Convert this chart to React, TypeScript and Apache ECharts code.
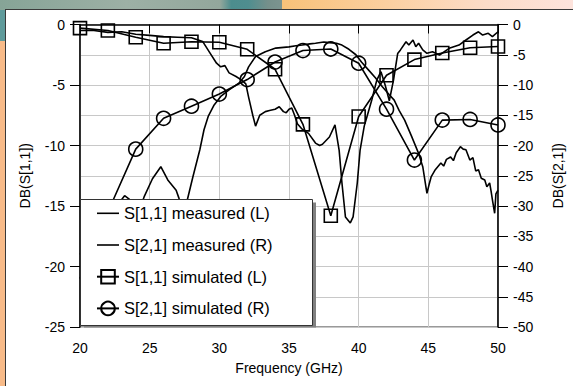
import React, { useEffect, useRef } from 'react';
import * as echarts from 'echarts';

const FONT = 'Liberation Sans, Arial, sans-serif';

const xTicks = [20, 25, 30, 35, 40, 45, 50];
const leftTicks = [-25, -20, -15, -10, -5, 0];
const rightTicks = [-50, -45, -40, -35, -30, -25, -20, -15, -10, -5, 0];

const seriesNames = [
  'S[1,1] measured (L)',
  'S[2,1] measured (R)',
  'S[1,1] simulated (L)',
  'S[2,1] simulated (R)',
];

// S[1,1] measured, dB (left axis)
const s11Measured: [number, number][] = [
  [20, -0.5], [21, -0.5], [22, -0.65], [23, -0.6], [24, -0.8], [25, -0.9], [26, -1.0],
  [27, -1.05], [28, -1.1], [28.8, -1.4], [29.3, -2.3], [29.8, -3.2], [30.1, -3.5],
  [30.4, -3.4], [30.7, -4.0], [31.2, -4.3], [31.6, -4.6], [31.9, -4.9], [32.1, -6.0],
  [32.4, -7.5], [32.6, -8.4], [32.9, -7.5], [33.3, -7.2], [33.6, -7.1], [34.0, -7.0],
  [34.3, -6.8], [34.6, -7.2], [34.8, -7.3], [35.0, -7.0], [35.2, -6.9], [35.4, -7.5],
  [35.6, -8.2], [35.9, -8.6], [36.4, -9.0], [36.9, -9.8], [37.2, -10.0], [37.4, -9.9],
  [37.9, -9.3], [38.3, -8.3], [38.6, -10.4], [38.8, -13.1], [39.05, -15.9], [39.4, -16.4],
  [39.6, -15.9], [39.9, -13.1], [40.1, -10.4], [40.4, -8.4], [40.6, -7.6], [40.95, -6.2],
  [41.3, -4.6], [41.6, -3.9], [41.9, -5.0], [42.2, -6.3], [42.5, -4.6], [42.8, -2.4],
  [43.0, -2.1], [43.4, -1.42], [43.6, -1.7], [43.9, -1.28], [44.1, -1.83], [44.3, -1.55],
  [44.6, -2.1], [44.9, -2.38], [45.3, -2.25], [45.8, -2.52], [46.5, -1.97], [47.2, -1.7],
  [47.7, -1.28], [48.2, -0.87], [48.6, -0.6], [48.9, -0.87], [49.3, -0.73], [49.6, -1.0],
  [50, -0.6],
];

// S[2,1] measured, dB (right axis)
const s21Measured: [number, number][] = [
  [20, -38], [21, -35], [22, -32], [22.8, -29.5], [23.2, -28.3], [23.6, -29], [24.2, -31],
  [24.6, -28.5], [25.2, -25.5], [25.8, -23.5], [26.3, -25.7], [26.9, -27.4], [27.1, -28.7],
  [27.4, -31], [27.7, -29], [28.1, -25.2], [28.6, -20.7], [28.9, -17.4], [29.2, -15.2],
  [29.6, -13.4], [30.1, -11.9], [30.7, -10.8], [31.4, -9.7], [31.8, -8.6], [32.1, -7.0],
  [32.6, -5.3], [33.3, -4.5], [34.05, -3.9], [35, -3.7], [35.5, -3.5], [35.95, -3.4],
  [36.5, -3.2], [36.9, -3.1], [37.5, -2.9], [37.9, -3.0], [38.4, -3.1], [38.8, -3.4],
  [39.3, -4.1], [39.8, -5.0], [40.2, -6.2], [40.7, -7.5], [41.2, -8.8], [41.7, -10.3],
  [42.2, -11.6], [42.55, -12.5], [42.9, -14.2], [43.3, -15.8], [43.8, -18.5], [44.3, -21.3],
  [44.6, -23.5], [44.9, -27.9], [45.05, -26.5], [45.2, -25.2], [45.5, -24], [45.9, -22.9],
  [46.1, -23.4], [46.3, -22.3], [46.6, -21.9], [46.8, -22.5], [47.0, -21.2], [47.3, -20.2],
  [47.5, -20.6], [47.7, -20.7], [47.98, -22.4], [48.2, -22.0], [48.4, -24.2], [48.6, -24.0],
  [48.8, -25.4], [49.05, -25.7], [49.2, -26.8], [49.4, -26.2], [49.5, -27.5], [49.6, -29],
  [49.76, -31.2], [49.85, -28], [50, -27.4],
];

// simulated (markers every 2 GHz)
const simFreq = [20, 22, 24, 26, 28, 30, 32, 34, 36, 38, 40, 42, 44, 46, 48, 50];
const s11Sim = [-0.3, -0.5, -1.05, -1.55, -1.42, -1.47, -2.05, -3.7, -8.25, -15.8, -7.6, -4.2, -2.9, -2.35, -1.92, -1.82];
const s21Sim = [-42, -31, -20.6, -15.5, -13.5, -11.5, -9.1, -6.2, -4.3, -4.05, -6.4, -14.0, -22.4, -15.8, -15.7, -16.6];

export default function App() {
  const ref = useRef<HTMLDivElement>(null);

  useEffect(() => {
    if (!ref.current) return;
    const chart = echarts.init(ref.current, null, { renderer: 'svg' });
    const axisText = { fontSize: 14, color: '#000', fontFamily: FONT };
    const lineW = 1.6;
    chart.setOption({
      animation: false,
      textStyle: { fontFamily: FONT },
      grid: {
        left: 80, right: 73, top: 24.5, bottom: 59,
        show: true, borderColor: '#333', borderWidth: 1, backgroundColor: 'transparent',
      },
      xAxis: {
        type: 'value', min: xTicks[0], max: xTicks[xTicks.length - 1], interval: 5,
        name: 'Frequency (GHz)', nameLocation: 'middle', nameGap: 34,
        nameTextStyle: { ...axisText },
        axisLine: { lineStyle: { color: '#000', width: 1.5 } },
        axisTick: { length: 9, lineStyle: { color: '#000', width: 1 } },
        axisLabel: { ...axisText, margin: 14 },
        splitLine: { show: true, lineStyle: { color: '#c8c8c8', width: 1 } },
      },
      yAxis: [
        {
          type: 'value', position: 'left', min: leftTicks[0], max: leftTicks[leftTicks.length - 1], interval: 5,
          name: 'DB(S[1,1])', nameLocation: 'middle', nameRotate: 90, nameGap: 48,
          nameTextStyle: { ...axisText },
          axisLine: { show: true, lineStyle: { color: '#000', width: 1.5 } },
          axisTick: { show: true, length: 10, lineStyle: { color: '#000', width: 1 } },
          axisLabel: { ...axisText, margin: 15 },
          splitLine: { show: false },
        },
        {
          type: 'value', position: 'right', min: rightTicks[0], max: rightTicks[rightTicks.length - 1], interval: 5,
          name: 'DB(S[2,1])', nameLocation: 'middle', nameRotate: 90, nameGap: 53,
          nameTextStyle: { ...axisText },
          axisLine: { show: true, lineStyle: { color: '#000', width: 1.5 } },
          axisTick: { show: true, length: 10, lineStyle: { color: '#000', width: 1 } },
          axisLabel: { ...axisText, margin: 15 },
          splitLine: { show: true, lineStyle: { color: '#c8c8c8', width: 1 } },
        },
      ],
      legend: {
        orient: 'vertical', left: 96, top: 204.8, padding: 0,
        itemWidth: 22, itemHeight: 17, itemGap: 14.7, z: 10,
        textStyle: { fontSize: 16.5, color: '#000', fontFamily: FONT },
        data: [
          { name: seriesNames[0], icon: 'path://M0,0H22V1.6H0Z' },
          { name: seriesNames[1], icon: 'path://M0,0H22V1.6H0Z' },
          { name: seriesNames[2] },
          { name: seriesNames[3] },
        ],
      },
      graphic: [
        { type: 'rect', z: 5, silent: true, shape: { x: 84, y: 202.5, width: 232, height: 125 }, style: { fill: '#808080' } },
        { type: 'rect', z: 6, silent: true, shape: { x: 80.5, y: 199.5, width: 232, height: 126 }, style: { fill: '#fff', stroke: '#333', lineWidth: 1 } },
      ],
      series: [
        {
          name: seriesNames[0], type: 'line', yAxisIndex: 0, data: s11Measured, symbol: 'none',
          lineStyle: { color: '#000', width: lineW }, itemStyle: { color: '#000' },
        },
        {
          name: seriesNames[1], type: 'line', yAxisIndex: 1, data: s21Measured, symbol: 'none',
          lineStyle: { color: '#000', width: lineW }, itemStyle: { color: '#000' },
        },
        {
          name: seriesNames[2], type: 'line', yAxisIndex: 0,
          data: simFreq.map((f, i) => [f, s11Sim[i]]),
          symbol: 'rect', symbolSize: 13,
          lineStyle: { color: '#000', width: lineW },
          itemStyle: { color: 'rgba(0,0,0,0)', borderColor: '#000', borderWidth: lineW },
        },
        {
          name: seriesNames[3], type: 'line', yAxisIndex: 1,
          data: simFreq.map((f, i) => (i === 0 ? { value: [f, s21Sim[i]], symbol: 'none' } : [f, s21Sim[i]])),
          symbol: 'circle', symbolSize: 14,
          lineStyle: { color: '#000', width: lineW },
          itemStyle: { color: 'rgba(0,0,0,0)', borderColor: '#000', borderWidth: lineW },
        },
      ],
    });
    return () => chart.dispose();
  }, []);

  return (
    <div style={{ position: 'fixed', left: 0, top: 0, width: 573, height: 386, overflow: 'hidden', background: '#fff' }}>
      <div style={{ position: 'absolute', left: 0, top: 0, width: 282, height: 10, background: 'linear-gradient(90deg, #86a497 0%, #9db0a5 45%, #93a79c 78%, #4c8d8e 82%, #4f8e8f 88%, #75908b 95%, #7c948f 100%)' }} />
      <div style={{ position: 'absolute', left: 282, top: 0, width: 291, height: 10, background: 'linear-gradient(90deg, #f8c279 0%, #fbcf9f 35%, #fcdcc8 70%, #fde3dc 100%)' }} />
      <div style={{ position: 'absolute', left: 0, top: 10, width: 6, height: 31, background: '#5f9b9b' }} />
      <div style={{ position: 'absolute', left: 0, top: 41, width: 6, height: 345, background: '#f8bb89' }} />
      <div style={{ position: 'absolute', left: 5, top: 9, width: 620, height: 420, background: '#fff', borderLeft: '1.5px solid #3a3a3a', borderTop: '1.5px solid #3a3a3a' }} />
      <div ref={ref} style={{ position: 'absolute', left: 0, top: 0, width: 573, height: 386 }} />
    </div>
  );
}
